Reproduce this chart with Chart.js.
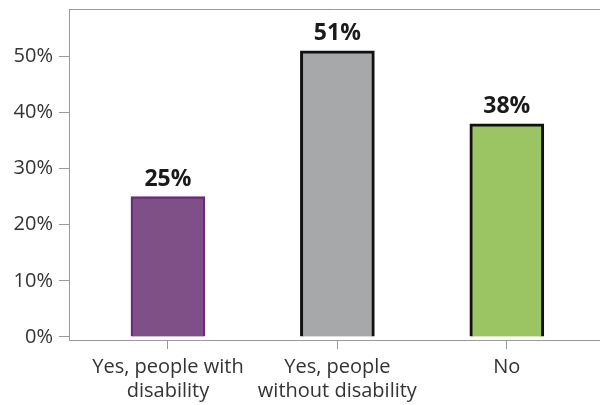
<!DOCTYPE html>
<html><head><meta charset="utf-8">
<script src="https://cdn.jsdelivr.net/npm/chart.js@4"></script>
<style>html,body{margin:0;padding:0;background:#fff}#wrap{width:600px;height:405px}</style>
</head><body><div id="wrap"><canvas id="c" width="600" height="405"></canvas></div>
<script>
const categories = [["Yes, people with","disability"],["Yes, people","without disability"],["No"]];
const values = [25, 51, 38];
const yTicks = [0, 10, 20, 30, 40, 50];
const fills = ["#7f4f88", "#a7a8aa", "#9bc462"];
const borders = ["#6b2a7a", "#111111", "#111111"];
const borderWidths = [2.5, 3, 3];

const font = "'Open Sans', 'Noto Sans', sans-serif";

const topLine = {
  id: 'topLine',
  afterDraw(chart) {
    const {ctx, chartArea} = chart;
    ctx.save();
    ctx.strokeStyle = '#9a9a9a';
    ctx.lineWidth = 1;
    ctx.beginPath();
    ctx.moveTo(chartArea.left, chartArea.top + 0.5);
    ctx.lineTo(chart.width, chartArea.top + 0.5);
    ctx.stroke();
    ctx.restore();
  }
};
const valueLabels = {
  id: 'valueLabels',
  afterDatasetsDraw(chart) {
    const {ctx} = chart;
    const meta = chart.getDatasetMeta(0);
    ctx.save();
    ctx.fillStyle = '#1a1a1a';
    ctx.font = "bold 23px " + font;
    ctx.textAlign = 'center';
    ctx.textBaseline = 'alphabetic';
    meta.data.forEach((el, i) => {
      ctx.fillText(values[i] + '%', el.x, el.y - 11);
    });
    ctx.restore();
  }
};

new Chart(document.getElementById('c'), {
  type: 'bar',
  data: {
    datasets: [{
      data: values.map((v, i) => ({x: i, y: v})),
      backgroundColor: fills,
      borderColor: borders,
      borderWidth: borderWidths,
      barThickness: 74
    }]
  },
  plugins: [topLine, valueLabels],
  options: {
    responsive: false,
    animation: false,
    layout: {padding: {top: 9, right: 0, left: 0, bottom: 0}},
    plugins: {legend: {display: false}, tooltip: {enabled: false}},
    scales: {
      x: {
        type: 'linear',
        offset: false,
        min: -0.584,
        max: 2.55,
        afterBuildTicks(scale) { scale.ticks = categories.map((c, i) => ({value: i})); },
        afterFit(scale) { scale.height = 65; scale.paddingLeft = 0; scale.paddingRight = 0; },
        ticks: {
          autoSkip: false,
          maxRotation: 0,
          color: '#333',
          font: {family: font, size: 20, lineHeight: 1.2},
          padding: 6,
          callback: (v) => categories[v]
        },
        grid: {display: true, offset: false, drawOnChartArea: false, drawTicks: true, tickLength: 9, color: '#9a9a9a'},
        border: {display: true, color: '#9a9a9a', width: 1}
      },
      y: {
        min: -0.55,
        max: 58.45,
        afterBuildTicks(scale) { scale.ticks = yTicks.map(v => ({value: v})); },
        afterFit(scale) { scale.width = 69; scale.paddingTop = 0; scale.paddingBottom = 0; },
        ticks: {
          color: '#333',
          font: {family: font, size: 20},
          padding: 6,
          callback: (v) => v + '%'
        },
        grid: {display: true, drawOnChartArea: false, drawTicks: true, tickLength: 10, color: '#9a9a9a'},
        border: {display: true, color: '#9a9a9a', width: 1}
      }
    }
  }
});
</script>
</body></html>
